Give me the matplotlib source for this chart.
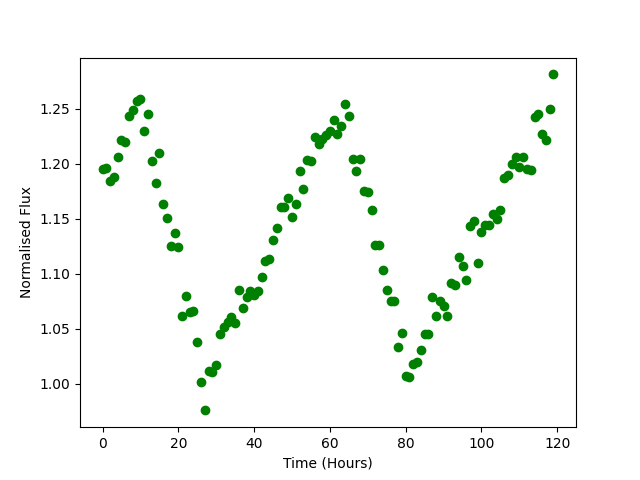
import numpy as np
import matplotlib
matplotlib.use('Agg')
import matplotlib.pyplot as plt

# hourly normalised flux
hours = np.arange(120)
flux = [
    1.195, 1.196, 1.184, 1.188, 1.206, 1.221, 1.220, 1.243, 1.249, 1.257,
    1.259, 1.230, 1.245, 1.202, 1.182, 1.210, 1.163, 1.151, 1.125, 1.137,
    1.124, 1.062, 1.080, 1.065, 1.066, 1.038, 1.002, 0.976, 1.012, 1.011,
    1.017, 1.045, 1.052, 1.056, 1.061, 1.055, 1.085, 1.069, 1.079, 1.084,
    1.081, 1.084, 1.097, 1.112, 1.113, 1.131, 1.142, 1.161, 1.161, 1.169,
    1.152, 1.163, 1.193, 1.177, 1.203, 1.202, 1.224, 1.218, 1.222, 1.226,
    1.230, 1.240, 1.227, 1.234, 1.254, 1.243, 1.204, 1.193, 1.204, 1.175,
    1.174, 1.158, 1.126, 1.126, 1.103, 1.085, 1.075, 1.075, 1.034, 1.046,
    1.007, 1.006, 1.018, 1.020, 1.031, 1.045, 1.045, 1.079, 1.062, 1.075,
    1.071, 1.062, 1.092, 1.090, 1.115, 1.107, 1.094, 1.143, 1.148, 1.110,
    1.138, 1.144, 1.144, 1.154, 1.150, 1.158, 1.187, 1.190, 1.200, 1.206,
    1.197, 1.206, 1.195, 1.194, 1.242, 1.245, 1.227, 1.221, 1.250, 1.281,
]

plt.figure(figsize=(6.4, 4.8), dpi=100)
plt.plot(hours, flux, 'go')
plt.xlabel('Time (Hours)')
plt.ylabel('Normalised Flux')
plt.savefig('out.png')
